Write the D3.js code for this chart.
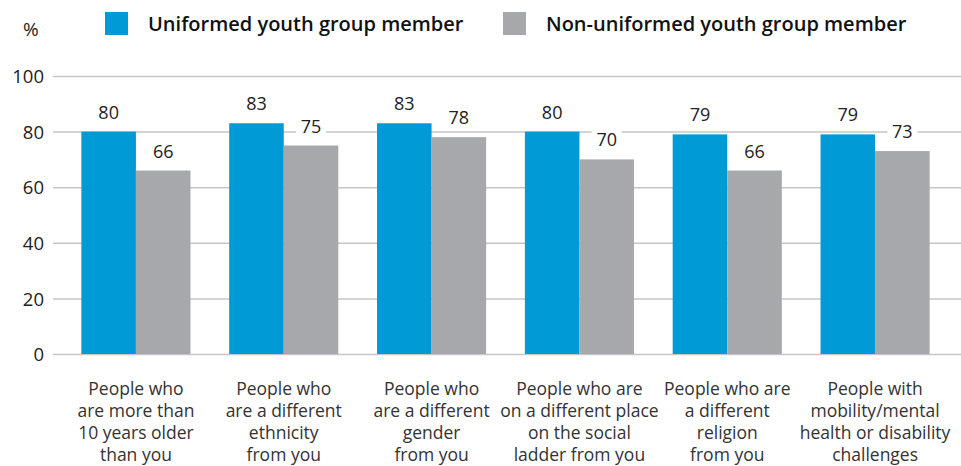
<!DOCTYPE html>
<html>
<head>
<meta charset="utf-8">
<script src="https://cdn.jsdelivr.net/npm/d3@7"></script>
<style>
  html, body { margin: 0; padding: 0; background: #fff; }
  svg { display: block; font-family: "Open Sans", sans-serif; }
</style>
</head>
<body>
<svg id="chart" width="961" height="466"></svg>
<script>
const categories = [
  ["People who", "are more than", "10 years older", "than you"],
  ["People who", "are a different", "ethnicity", "from you"],
  ["People who", "are a different", "gender", "from you"],
  ["People who are", "on a different place", "on the social", "ladder from you"],
  ["People who are", "a different", "religion", "from you"],
  ["People with", "mobility/mental", "health or disability", "challenges"]
];
const seriesNames = ["Uniformed youth group member", "Non-uniformed youth group member"];
const uniformed = [80, 83, 83, 80, 79, 79];
const nonUniformed = [66, 75, 78, 70, 66, 73];
const yTicks = [0, 20, 40, 60, 80, 100];
const colors = ["#009ad6", "#a7a8ac"];

const W = 961, H = 466;
const svg = d3.select("#chart");

const x0 = d3.scaleBand().domain(d3.range(categories.length)).range([62, 949]).paddingInner(0.262).paddingOuter(0.131);
const x1 = d3.scaleBand().domain([0, 1]).range([0, x0.bandwidth()]);
const y = d3.scaleLinear().domain([0, 100]).range([354, 76]);

// Grid + y labels
svg.append("g")
  .attr("transform", "translate(53,0)")
  .call(d3.axisRight(y).tickValues(yTicks).tickSize(W - 53).tickFormat(d3.format("d")))
  .call(ax => {
    ax.select(".domain").remove();
    ax.selectAll(".tick line").attr("stroke", "#c6c6c8").attr("stroke-width", 1.5);
    ax.selectAll(".tick text")
      .attr("x", -9).attr("text-anchor", "end").attr("dy", "0.36em")
      .style("font-size", "18.5px").style("fill", "#222").style("font-family", "'Open Sans', sans-serif");
  });

svg.append("text").attr("x", 23).attr("y", 36)
  .style("font-size", "19px").style("fill", "#222").text("%");

// Bars
const rows = categories.map((c, i) => ({ i, vals: [uniformed[i], nonUniformed[i]] }));
const grp = svg.append("g").selectAll("g").data(rows).join("g")
  .attr("transform", d => `translate(${x0(d.i)},0)`);

grp.selectAll("rect").data(d => d.vals.map((v, k) => ({ v, k }))).join("rect")
  .attr("x", d => x1(d.k)).attr("width", x1.bandwidth())
  .attr("y", d => y(d.v)).attr("height", d => y(0) - y(d.v))
  .attr("fill", d => colors[d.k]);

// Value labels with white backing
const lab = grp.selectAll("g.lab").data(d => d.vals.map((v, k) => ({ v, k }))).join("g")
  .attr("class", "lab")
  .attr("transform", d => `translate(${x1(d.k) + x1.bandwidth() / 2},${y(d.v) - 13})`);
lab.append("rect").attr("x", -15).attr("y", -16).attr("width", 30).attr("height", 21).attr("fill", "#fff");
lab.append("text").attr("text-anchor", "middle")
  .style("font-size", "18px").style("fill", "#222").text(d => d.v);

// Category labels
const cat = svg.append("g").selectAll("text").data(categories).join("text")
  .attr("text-anchor", "middle")
  .attr("x", (d, i) => x0(i) + x0.bandwidth() / 2)
  .attr("y", 395)
  .style("font-size", "17.5px").style("fill", "#333");
cat.selectAll("tspan").data(d => d).join("tspan")
  .attr("x", function () { return d3.select(this.parentNode).attr("x"); })
  .attr("dy", (d, j) => j === 0 ? 0 : 22)
  .text(d => d);

// Legend
const legX = [105, 503];
const leg = svg.append("g").selectAll("g").data(seriesNames).join("g")
  .attr("transform", (d, i) => `translate(${legX[i]},12)`);
leg.append("rect").attr("width", 23).attr("height", 23).attr("fill", (d, i) => colors[i]);
leg.append("text").attr("x", 43).attr("y", 19)
  .style("font-size", "20px").style("font-weight", 600).style("fill", "#111").text(d => d);
</script>
</body>
</html>
